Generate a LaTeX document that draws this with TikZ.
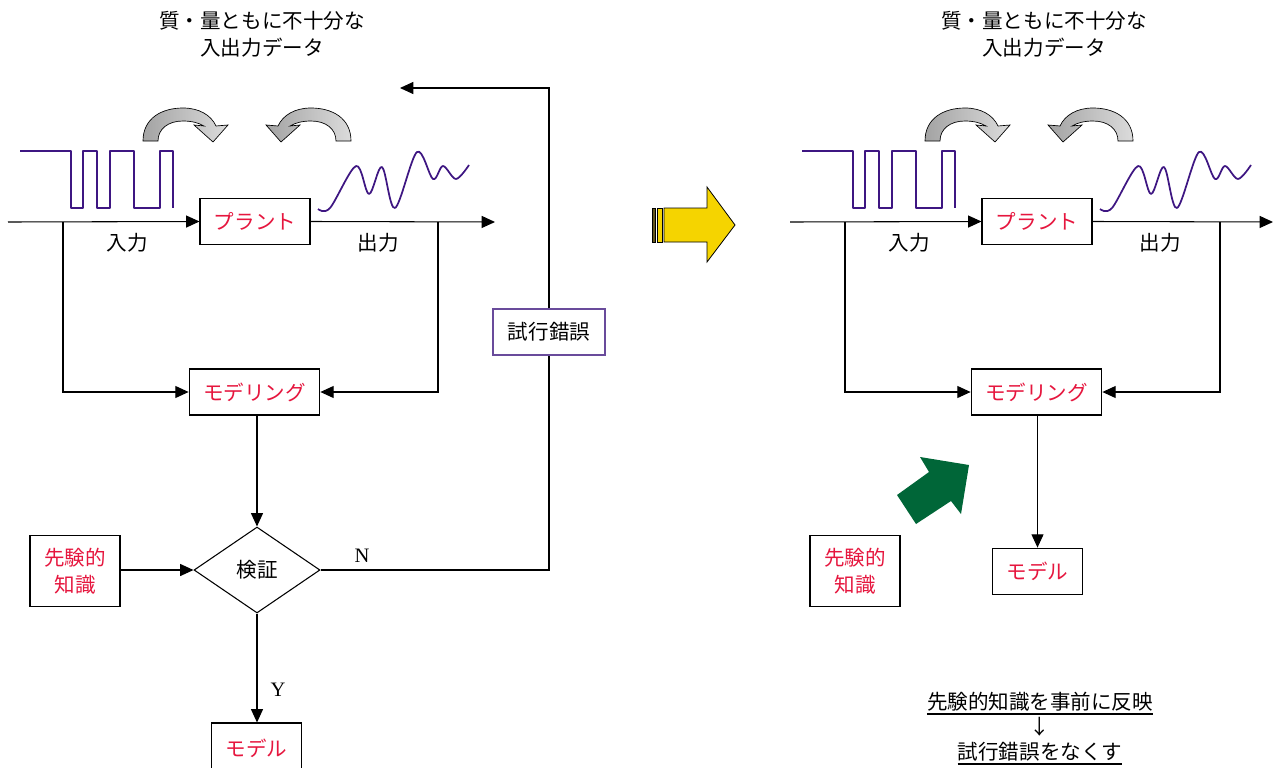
\documentclass[tikz,border=0pt]{standalone}
\usepackage{fontspec}
\setmainfont{Liberation Serif}
\newfontfamily\jp{Noto Sans CJK JP}
\usetikzlibrary{arrows.meta,shapes.geometric}

\definecolor{jred}{RGB}{230,22,62}
\definecolor{sigpurple}{RGB}{62,22,130}
\definecolor{trialpurple}{RGB}{105,75,155}
\definecolor{darkgreen}{RGB}{0,102,56}
\definecolor{arrowyellow}{RGB}{245,212,0}
\definecolor{olivebar}{RGB}{100,86,30}

\begin{document}
\begin{tikzpicture}[x=0.75pt,y=-0.75pt,
  every node/.style={font=\jp\fontsize{15.4}{20}\selectfont},
  blockbox/.style={draw, line width=0.8pt, inner sep=0pt, align=center},
  redtext/.style={text=jred},
  decision/.style={draw, diamond, line width=0.8pt, inner sep=0pt, aspect=1.465,
                   minimum width=94.5pt, minimum height=64.5pt},
  arr/.style={-{Triangle[length=10pt,width=9pt]}, line width=0.8pt},
  wire/.style={line width=0.8pt},
  signal/.style={draw=sigpurple, line width=1.3pt, line join=round},
  bendarrow/.style={draw=black, line width=0.5pt, shading=axis,
                    left color=gray!72, right color=gray!28},
  latin/.style={font=\fontsize{15.4}{20}\selectfont}
]
\useasboundingbox[fill=white] (0,0) rectangle (1273,767);

% ---------------- left: trial-and-error identification ----------------
\node[align=center] (titleL) at (262,34) {質・量ともに不十分な\\入出力データ};

% curved exchange arrows
\path[bendarrow] (143,141) .. controls (143,118) and (162,108) .. (183,108)
  .. controls (199,108) and (211,115) .. (216,126) -- (228,125) -- (213,142) -- (194,125)
  -- (204,126) .. controls (199,123) and (192,121) .. (183,121)
  .. controls (168,121) and (158,129) .. (158,141) -- cycle;
\begin{scope}[shift={(494,0)}, xscale=-1]
\path[bendarrow] (143,141) .. controls (143,118) and (162,108) .. (183,108)
  .. controls (199,108) and (211,115) .. (216,126) -- (228,125) -- (213,142) -- (194,125)
  -- (204,126) .. controls (199,123) and (192,121) .. (183,121)
  .. controls (168,121) and (158,129) .. (158,141) -- cycle;
\end{scope}

% input and output signals
\draw[signal] (20,151) -- (71,151) -- (71,208) -- (83,208) -- (83,151) -- (97,151)
  -- (97,208) -- (110,208) -- (110,151) -- (134,151) -- (134,208) -- (160,208)
  -- (160,151) -- (173,151) -- (173,208);
\draw[signal] plot[smooth, tension=0.55] coordinates {(318,209) (330,208) (356,166)
  (369,194) (382,167) (395,208) (417,152) (433,179) (443,166) (456,179) (469,165)};

% blocks
\node[blockbox, redtext, minimum width=82.5pt, minimum height=35pt] (plantL) at (255,221.5) {プラント};
\node[blockbox, redtext, minimum width=98pt, minimum height=34.5pt] (modelL) at (254.5,392) {モデリング};
\node[decision] (check) at (257,570) {検証};
\node[blockbox, redtext, minimum width=67.5pt, minimum height=53pt] (priorL) at (75,571) {先験的\\知識};
\node[blockbox, redtext, minimum width=68pt, minimum height=37.5pt] (resultL) at (256.5,748) {モデル};
\node[blockbox, draw=trialpurple, minimum width=84pt, minimum height=34.5pt] (trial) at (549,332) {試行錯誤};

\node (inLblL) at (127,243) {入力};
\node (outLblL) at (378,243) {出力};

% connectors
\coordinate (inL) at (8,222);
\coordinate (outL) at (495,222);
\coordinate (tapInL) at (63,222);
\coordinate (tapOutL) at (438,222);
\coordinate (cornerN) at (549,570);
\coordinate (fbEnd) at (400,88);
\draw[arr] (inL) -- (plantL.west);
\draw[arr] (plantL.east) -- (outL);
\draw[arr] (tapInL) |- (modelL.west);
\draw[arr] (tapOutL) |- (modelL.east);
\draw[arr] (modelL.south -| check.north) -- (check.north);
\draw[arr] (priorL.east |- check.west) -- (check.west);
\draw[arr] (check.south) -- (check.south |- resultL.north);
\draw[wire] (check.east) -- (cornerN) -- (trial.south);
\draw[arr] (trial.north) |- (fbEnd);
\node[latin] (lblN) at (362,556) {N};
\node[latin] (lblY) at (278,690) {Y};

% ---------------- middle: transition arrow ----------------
\filldraw[fill=olivebar, draw=black, line width=0.5pt] (652,208) rectangle (655,242);
\filldraw[fill=arrowyellow, draw=black, line width=0.5pt] (657,208) rectangle (662,242);
\filldraw[fill=arrowyellow, draw=black, line width=0.6pt, line join=miter]
  (664,208) -- (707,208) -- (707,187) -- (735,225) -- (707,262) -- (707,242) -- (664,242) -- cycle;

% ---------------- right: identification with prior knowledge ----------------
\node[align=center] (titleR) at (1044,34) {質・量ともに不十分な\\入出力データ};

\begin{scope}[shift={(782,0)}]
\path[bendarrow] (143,141) .. controls (143,118) and (162,108) .. (183,108)
  .. controls (199,108) and (211,115) .. (216,126) -- (228,125) -- (213,142) -- (194,125)
  -- (204,126) .. controls (199,123) and (192,121) .. (183,121)
  .. controls (168,121) and (158,129) .. (158,141) -- cycle;
\end{scope}
\begin{scope}[shift={(1276,0)}, xscale=-1]
\path[bendarrow] (143,141) .. controls (143,118) and (162,108) .. (183,108)
  .. controls (199,108) and (211,115) .. (216,126) -- (228,125) -- (213,142) -- (194,125)
  -- (204,126) .. controls (199,123) and (192,121) .. (183,121)
  .. controls (168,121) and (158,129) .. (158,141) -- cycle;
\end{scope}

\begin{scope}[shift={(782,0)}]
\draw[signal] (20,151) -- (71,151) -- (71,208) -- (83,208) -- (83,151) -- (97,151)
  -- (97,208) -- (110,208) -- (110,151) -- (134,151) -- (134,208) -- (160,208)
  -- (160,151) -- (173,151) -- (173,208);
\draw[signal] plot[smooth, tension=0.55] coordinates {(318,209) (330,208) (356,166)
  (369,194) (382,167) (395,208) (417,152) (433,179) (443,166) (456,179) (469,165)};
\end{scope}

\node[blockbox, redtext, minimum width=82.5pt, minimum height=35pt] (plantR) at (1037,221.5) {プラント};
\node[blockbox, redtext, minimum width=98pt, minimum height=34.5pt] (modelR) at (1036.5,392) {モデリング};
\node[blockbox, redtext, minimum width=67.5pt, minimum height=53pt] (priorR) at (855,571) {先験的\\知識};
\node[blockbox, redtext, minimum width=67pt, minimum height=35pt] (resultR) at (1037.5,571.5) {モデル};

\node (inLblR) at (909,243) {入力};
\node (outLblR) at (1160,243) {出力};

\coordinate (inR) at (790,222);
\coordinate (outR) at (1273,222);
\coordinate (tapInR) at (845,222);
\coordinate (tapOutR) at (1220,222);
\draw[arr] (inR) -- (plantR.west);
\draw[arr] (plantR.east) -- (outR);
\draw[arr] (tapInR) |- (modelR.west);
\draw[arr] (tapOutR) |- (modelR.east);
\draw[arr] (modelR.south -| resultR.north) -- (resultR.north);

% prior knowledge pushed into the model
\fill[darkgreen] (897,495) -- (929,472) -- (920,457) -- (969,465) -- (961,514)
  -- (951,501) -- (916,524) -- cycle;

% conclusion
\node[inner sep=0pt] (concl1) at (1040,702) {先験的知識を事前に反映};
\node[inner sep=0pt] (concl2) at (1040,727) {↓};
\node[inner sep=0pt] (concl3) at (1040,752) {試行錯誤をなくす};
\draw[line width=1.6pt] ([yshift=-1.5pt]concl1.south west) -- ([yshift=-1.5pt]concl1.south east);
\draw[line width=1.6pt] ([yshift=-1.5pt]concl3.south west) -- ([yshift=-1.5pt]concl3.south east);
\end{tikzpicture}
\end{document}
